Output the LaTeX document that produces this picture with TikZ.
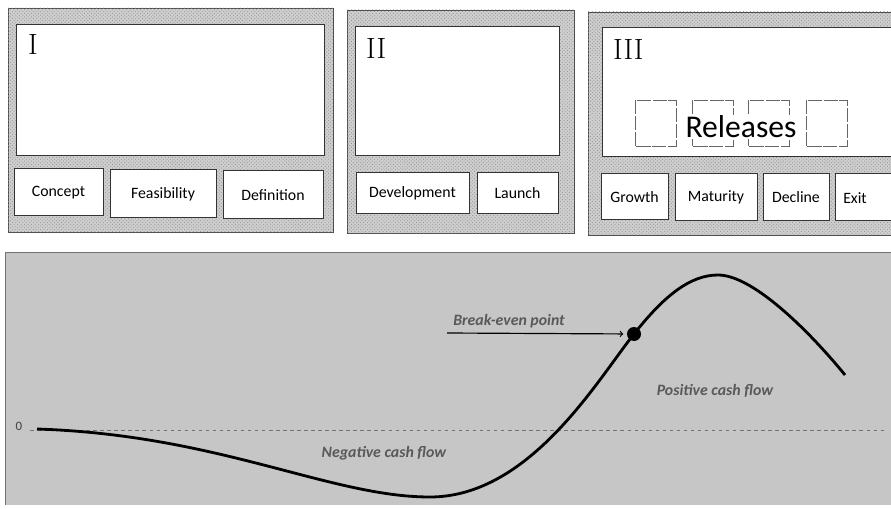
\documentclass[tikz,border=0pt]{standalone}
\usepackage{fontspec}
\newfontfamily\calibri{Carlito}
\usetikzlibrary{patterns}

\tikzset{
    panel/.style={draw=black!70, fill=gray!38, postaction={pattern=crosshatch dots, pattern color=gray!85}},
    screen/.style={draw=black!80, fill=white},
    phase/.style={font=\calibri\fontsize{13.5}{16}\selectfont},
    release/.style={draw=black!60, fill=white, dash pattern=on 12pt off 1.5pt},
    roman/.style={font=\fontsize{25}{28}\selectfont, anchor=north west, inner sep=0pt},
    note/.style={font=\calibri\bfseries\itshape\fontsize{13.5}{16}\selectfont, text=black!65},
}

\begin{document}
\begin{tikzpicture}[x=0.03cm, y=-0.03cm, >=to]
    \clip (0,0) rectangle (891,509);
    \fill[white] (0,0) rectangle (891,509);

    % Stage I
    \draw[panel] (8,8) rectangle (333,232);
    \draw[screen] (16,24) rectangle (324,155);
    \node[roman] (stageI) at (28,34) {I};
    \foreach \a/\b/\c/\d/\name/\txt in {14/168/103/215/concept/Concept, 110/169/216/217/feasibility/Feasibility, 223/170/323/218/definition/Definition}
    {
        \draw[screen] (\a,\b) rectangle (\c,\d);
        \node[phase] (\name) at ({(\a+\c)/2},{(\b+\d)/2+1}) {\txt};
    }

    % Stage II
    \draw[panel] (347,10) rectangle (574,233);
    \draw[screen] (355,26) rectangle (559,155);
    \node[roman] (stageII) at (366,38) {II};
    \foreach \a/\b/\c/\d/\name/\txt in {356/172/469/213/development/Development, 477/172/558/213/launch/Launch}
    {
        \draw[screen] (\a,\b) rectangle (\c,\d);
        \node[phase] (\name) at ({(\a+\c)/2},{(\b+\d)/2+1}) {\txt};
    }

    % Stage III, runs off the right edge
    \draw[panel] (588,12) rectangle (900,235);
    \draw[screen] (602,27) rectangle (900,156);
    \node[roman] (stageIII) at (613,39) {III};
    \foreach \a in {635,692,748,806}
        \draw[release] (\a,100) rectangle (\a+41,146);
    \node[font=\calibri\fontsize{27}{30}\selectfont, fill=white, inner sep=1pt] (releases) at (741,127) {Releases};
    \foreach \a/\b/\c/\d/\name/\txt in {601/173/668/219/growth/Growth, 675/173/757/220/maturity/Maturity, 763/173/829/220/decline/Decline}
    {
        \draw[screen] (\a,\b) rectangle (\c,\d);
        \node[phase] (\name) at ({(\a+\c)/2},{(\b+\d)/2+1}) {\txt};
    }
    \draw[screen] (835,173) rectangle (900,220);
    \node[phase] (exit) at (855,198) {Exit};

    % Cash flow graph
    \fill[gray!45] (5,252) rectangle (900,505);
    \draw[black!55] (5,505) -- (5,252) -- (900,252);
    \draw[dashed, black!55] (30,430) -- (885,430);
    \node[font=\calibri\fontsize{11}{13}\selectfont, text=black!75] (zero) at (19,426) {0};
    \draw[line width=2.4pt] (37,429) .. controls (220,435) and (330,497) .. (430,497)
        .. controls (530,497) and (598,379) .. (634,334)
        .. controls (664,296) and (690,275) .. (718,275)
        .. controls (755,275) and (815,338) .. (845,375);

    \node[circle, fill=black, inner sep=0pt, minimum size=0.42cm] (breakeven) at (634,334) {};
    \coordinate (arrowstart) at (447,333);
    \draw[->, line width=1pt] (arrowstart) -- (breakeven) [shorten >=3pt];
    \node[note] (bepoint) at (509,321) {Break-even point};
    \node[note] (positive) at (715,391) {Positive cash flow};
    \node[note] (negative) at (384,453) {Negative cash flow};
\end{tikzpicture}
\end{document}
